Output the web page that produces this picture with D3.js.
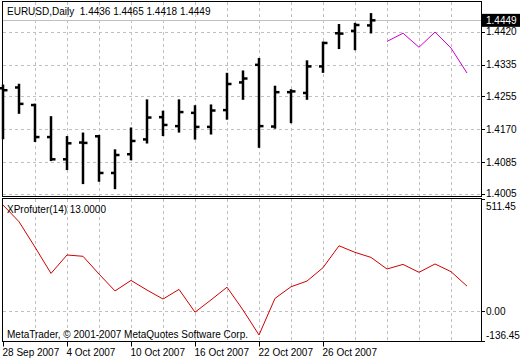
<!DOCTYPE html>
<html lang="en">
  <head>
    <meta charset="UTF-8" />
    <title>EURUSD Daily</title>
    <script src="https://d3js.org/d3.v7.min.js"></script>
    <style>
      html,
      body {
        margin: 0;
        padding: 0;
        background: #fff;
      }
      svg {
        display: block;
        font-family: "Liberation Sans", Arial, sans-serif;
        font-size: 10px;
      }
      .grid {
        stroke: #c0c0c0;
        stroke-width: 1;
        stroke-dasharray: 3, 3;
        shape-rendering: crispEdges;
      }
      .frame {
        fill: none;
        stroke: #000;
        stroke-width: 1;
        shape-rendering: crispEdges;
      }
      .bar {
        stroke: #000;
        stroke-width: 2.5;
      }
    </style>
  </head>
  <body>
    <svg width="520" height="360"></svg>

    <script>
      // bar dates (daily)
      const dates = [
        "28 Sep 2007", "1 Oct 2007", "2 Oct 2007", "3 Oct 2007", "4 Oct 2007",
        "5 Oct 2007", "8 Oct 2007", "9 Oct 2007", "10 Oct 2007", "11 Oct 2007",
        "12 Oct 2007", "15 Oct 2007", "16 Oct 2007", "17 Oct 2007", "18 Oct 2007",
        "19 Oct 2007", "22 Oct 2007", "23 Oct 2007", "24 Oct 2007", "25 Oct 2007",
        "26 Oct 2007", "29 Oct 2007", "30 Oct 2007", "31 Oct 2007",
      ];
      const open = [
        1.4275, 1.4277, 1.4232, 1.415, 1.4093, 1.4136, 1.4152, 1.4058, 1.4106, 1.4144,
        1.4201, 1.4178, 1.4212, 1.4176, 1.4219, 1.429, 1.4335, 1.4177, 1.4265, 1.4263,
        1.4331, 1.4416, 1.4422, 1.4436,
      ];
      const high = [
        1.4282, 1.4284, 1.4233, 1.4201, 1.415, 1.4159, 1.4153, 1.4116, 1.4172, 1.4244,
        1.4215, 1.4244, 1.4229, 1.4231, 1.4312, 1.4318, 1.435, 1.4279, 1.427, 1.4344,
        1.4392, 1.4437, 1.444, 1.4465,
      ];
      const low = [
        1.4147, 1.4212, 1.414, 1.4091, 1.4068, 1.4032, 1.4038, 1.4019, 1.4093, 1.4136,
        1.4155, 1.4164, 1.4146, 1.4159, 1.4197, 1.4248, 1.4125, 1.4174, 1.4188, 1.4248,
        1.4317, 1.4378, 1.4375, 1.4418,
      ];
      const close = [
        1.427, 1.4235, 1.415, 1.4093, 1.4134, 1.4135, 1.4058, 1.4104, 1.414, 1.42,
        1.4181, 1.4214, 1.4176, 1.4218, 1.4286, 1.43, 1.4178, 1.4265, 1.4267, 1.4331,
        1.4391, 1.4415, 1.4437, 1.4449,
      ];
      // projected price (magenta), bars 24..29
      const forecast = [1.4395, 1.4416, 1.438, 1.4419, 1.4378, 1.4314];

      // XProfuter(14) indicator, bars 0..29
      const indicator = [
        484, 408, 292, 172, 256, 250, 169, 92, 140, 96,
        55, 99, -5, 51, 109, 5, -109, 58, 111, 137,
        198, 298, 268, 245, 192, 213, 177, 215, 180, 114,
      ];

      const priceTicks = [1.442, 1.4335, 1.4255, 1.417, 1.4085, 1.4005];
      const priceLabels = ["1.4420", "1.4335", "1.4255", "1.4170", "1.4085", "1.4005"];
      const indTicks = [511.45, 0, -136.45];
      const indLabels = ["511.45", "0.00", "-136.45"];
      const dateTickIdx = [0, 4, 8, 12, 16, 20];

      const title = "EURUSD,Daily  1.4436 1.4465 1.4418 1.4449";
      const indTitle = "XProfuter(14) 13.0000";
      const copyright = "MetaTrader, \u00a9 2001-2007 MetaQuotes Software Corp.";

      // layout
      const left = 2.5,
        right = 481;
      const main = { top: 1.5, bottom: 196.5 };
      const ind = { top: 198.5, bottom: 341.5 };

      const svg = d3.select("svg");

      const x = d3.scaleLinear().domain([0, 1]).range([3, 19]);
      const y = d3.scaleLinear().domain([1.3999, 1.4496]).range([196, 2]);
      const yi = d3.scaleLinear().domain([-136.45, 511.45]).range([341, 199]);

      const gridIdx = d3.range(2, 29, 2);

      // vertical grid in both panels
      [main, ind].forEach((p) => {
        svg
          .append("g")
          .selectAll("line")
          .data(gridIdx)
          .join("line")
          .attr("class", "grid")
          .attr("x1", (d) => Math.round(x(d)) + 0.5)
          .attr("x2", (d) => Math.round(x(d)) + 0.5)
          .attr("y1", p.top)
          .attr("y2", p.bottom);
      });

      // horizontal grid, main panel
      svg
        .append("g")
        .selectAll("line")
        .data(priceTicks)
        .join("line")
        .attr("class", "grid")
        .attr("x1", left)
        .attr("x2", right)
        .attr("y1", (d) => Math.round(y(d)) + 0.5)
        .attr("y2", (d) => Math.round(y(d)) + 0.5);

      // zero line, indicator panel
      svg
        .append("line")
        .attr("class", "grid")
        .attr("x1", left)
        .attr("x2", right)
        .attr("y1", Math.round(yi(0)) + 0.5)
        .attr("y2", Math.round(yi(0)) + 0.5);

      // current price line
      const last = close[close.length - 1];
      svg
        .append("line")
        .attr("x1", left)
        .attr("x2", right)
        .attr("y1", Math.round(y(last)) + 0.5)
        .attr("y2", Math.round(y(last)) + 0.5)
        .attr("stroke", "#c0c0c0")
        .attr("shape-rendering", "crispEdges");

      // frames
      [main, ind].forEach((p) => {
        svg
          .append("rect")
          .attr("class", "frame")
          .attr("x", left)
          .attr("y", p.top)
          .attr("width", right - left)
          .attr("height", p.bottom - p.top);
      });

      // OHLC bars
      const bars = svg
        .append("g")
        .selectAll("g")
        .data(dates.map((d, i) => i))
        .join("g");
      bars
        .append("line")
        .attr("class", "bar")
        .attr("x1", (i) => x(i))
        .attr("x2", (i) => x(i))
        .attr("y1", (i) => y(high[i]) - 1)
        .attr("y2", (i) => y(low[i]) + 1);
      bars
        .append("line")
        .attr("class", "bar")
        .attr("x1", (i) => x(i) - 4)
        .attr("x2", (i) => x(i))
        .attr("y1", (i) => y(open[i]))
        .attr("y2", (i) => y(open[i]));
      bars
        .append("line")
        .attr("class", "bar")
        .attr("x1", (i) => x(i))
        .attr("x2", (i) => x(i) + 4.5)
        .attr("y1", (i) => y(close[i]))
        .attr("y2", (i) => y(close[i]));

      // forecast line
      svg
        .append("path")
        .datum(forecast)
        .attr("fill", "none")
        .attr("stroke", "#cc00cc")
        .attr("stroke-width", 1)
        .attr(
          "d",
          d3
            .line()
            .x((d, i) => x(i + dates.length))
            .y((d) => y(d))
        );

      // indicator line
      svg
        .append("path")
        .datum(indicator)
        .attr("fill", "none")
        .attr("stroke", "#d00000")
        .attr("stroke-width", 1)
        .attr(
          "d",
          d3
            .line()
            .x((d, i) => x(i))
            .y((d) => yi(d))
        );

      // right price axis
      const pAxis = svg.append("g");
      pAxis
        .selectAll("line")
        .data(priceTicks)
        .join("line")
        .attr("x1", right)
        .attr("x2", right + 4)
        .attr("y1", (d) => Math.round(y(d)) + 0.5)
        .attr("y2", (d) => Math.round(y(d)) + 0.5)
        .attr("stroke", "#000");
      pAxis
        .selectAll("text")
        .data(priceTicks)
        .join("text")
        .attr("x", right + 5)
        .attr("y", (d) => y(d))
        .attr("dy", "0.35em")
        .text((d, i) => priceLabels[i]);

      // current price box
      svg
        .append("rect")
        .attr("x", right)
        .attr("y", y(last) - 6.5)
        .attr("width", 520 - right)
        .attr("height", 13)
        .attr("fill", "#000");
      svg
        .append("text")
        .attr("x", right + 5)
        .attr("y", y(last))
        .attr("dy", "0.35em")
        .attr("fill", "#fff")
        .text(last.toFixed(4));

      // indicator axis
      const iAxis = svg.append("g");
      iAxis
        .selectAll("line")
        .data(indTicks)
        .join("line")
        .attr("x1", right)
        .attr("x2", right + 4)
        .attr("y1", (d) => Math.round(yi(d)) + 0.5)
        .attr("y2", (d) => Math.round(yi(d)) + 0.5)
        .attr("stroke", "#000");
      iAxis
        .selectAll("text")
        .data(indTicks)
        .join("text")
        .attr("x", right + 5)
        .attr("y", (d, i) => yi(d) + (i === 0 ? 7 : i === 2 ? -5.5 : 0))
        .attr("dy", "0.35em")
        .text((d, i) => indLabels[i]);

      // date axis
      const dAxis = svg.append("g");
      dAxis
        .selectAll("line")
        .data(dateTickIdx)
        .join("line")
        .attr("x1", (d) => Math.round(x(d)) + 0.5)
        .attr("x2", (d) => Math.round(x(d)) + 0.5)
        .attr("y1", ind.bottom)
        .attr("y2", ind.bottom + 5)
        .attr("stroke", "#000");
      dAxis
        .selectAll("text")
        .data(dateTickIdx)
        .join("text")
        .attr("x", (d) => x(d) - 0.5)
        .attr("y", 356)
        .text((d) => dates[d]);

      // captions
      svg.append("text").attr("x", 7).attr("y", 11).attr("dy", "0.35em").text(title).attr("xml:space", "preserve").style("white-space", "pre");
      svg.append("text").attr("x", 7).attr("y", 209).attr("dy", "0.35em").text(indTitle);
      svg.append("text").attr("x", 7).attr("y", 334).attr("dy", "0.35em").text(copyright);
    </script>
  </body>
</html>
